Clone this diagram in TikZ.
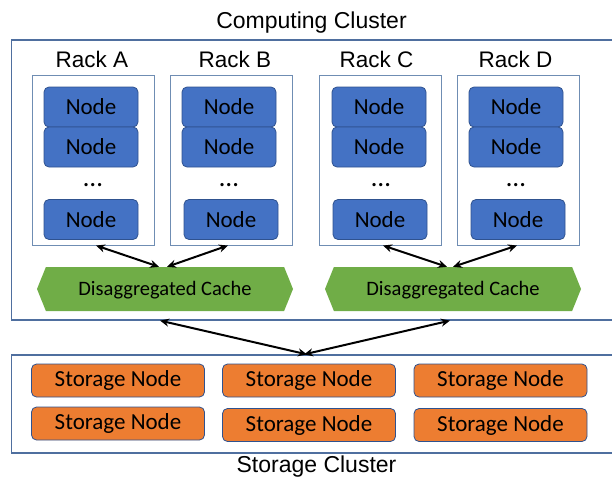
\documentclass[tikz,border=0pt]{standalone}
\usepackage{fontspec}
\setmainfont{Liberation Sans}
\newfontfamily\calibri{Carlito}
\usetikzlibrary{shapes.symbols,arrows.meta,calc}
\definecolor{nodeblue}{HTML}{4472C4}
\definecolor{edgeblue}{HTML}{2F528F}
\definecolor{framecol}{HTML}{4F6F9F}
\definecolor{rackcol}{HTML}{6F8DB3}
\definecolor{cachegreen}{HTML}{70AD47}
\definecolor{storeorange}{HTML}{ED7D31}
\begin{document}
\begin{tikzpicture}[x=1pt,y=-1pt,
  title/.style={font=\fontsize{23}{27}\selectfont, anchor=base, inner sep=0},
  racklabel/.style={font=\fontsize{22.5}{27}\selectfont, anchor=base, inner sep=0},
  cluster/.style={draw=framecol, line width=1.2pt, inner sep=0},
  rackbox/.style={draw=rackcol, line width=1pt, minimum width=122pt, minimum height=170pt, inner sep=0},
  cnode/.style={draw=edgeblue, fill=nodeblue, rounded corners=5pt, line width=0.8pt,
    minimum width=94pt, minimum height=40pt, inner sep=0, text height=15.4pt, text depth=0pt,
    font=\calibri\fontsize{23}{26}\selectfont},
  dots/.style={font=\calibri\fontsize{27}{30}\selectfont, inner sep=0, anchor=base},
  cache/.style={shape=signal, signal to=east and west, signal pointer angle=136, fill=cachegreen,
    minimum width=256pt, minimum height=44pt, inner sep=0, text height=13.4pt, text depth=0pt,
    font=\calibri\fontsize{20.5}{24}\selectfont},
  snode/.style={draw=edgeblue, fill=storeorange, rounded corners=5pt, line width=0.8pt,
    minimum width=173pt, minimum height=33pt, inner sep=0, text height=12.4pt, text depth=0pt,
    font=\calibri\fontsize{23}{26}\selectfont},
  arr/.style={{Stealth[length=9pt,width=8pt]}-{Stealth[length=9pt,width=8pt]}, line width=2pt}
]
\useasboundingbox (0,0) rectangle (612,479);
\clip (0,0) rectangle (612,479);

% clusters
\node[cluster, minimum width=628.5pt, minimum height=280pt] (comp) at (325.75,180) {};
\node[cluster, minimum width=628.5pt, minimum height=98pt] (stor) at (325.75,404) {};
\node[title] (comptitle) at (311.5,28) {Computing Cluster};
\node[title] (stortitle) at (316.5,472.5) {Storage Cluster};

% racks
\node[rackbox] (rackA) at (93,160) {};
\node[rackbox] (rackB) at (231,160) {};
\node[rackbox] (rackC) at (380.5,160) {};
\node[rackbox] (rackD) at (518,160) {};
\node[racklabel] (labA) at (92,67.5) {Rack A};
\node[racklabel] (labB) at (235,67.5) {Rack B};
\node[racklabel] (labC) at (376.5,67.5) {Rack C};
\node[racklabel] (labD) at (515.5,67.5) {Rack D};

% compute nodes
\node[cnode] (a1) at (91,107) {Node};
\node[cnode] (a2) at (91,147) {Node};
\node[dots]  (a3) at (93,186) {…};
\node[cnode] (a4) at (91,219.5) {Node};

\node[cnode] (b1) at (229,107) {Node};
\node[cnode] (b2) at (229,147) {Node};
\node[dots]  (b3) at (229,186) {…};
\node[cnode] (b4) at (231,219.5) {Node};

\node[cnode] (c1) at (379,107) {Node};
\node[cnode] (c2) at (379,147) {Node};
\node[dots]  (c3) at (381,186) {…};
\node[cnode] (c4) at (380,219.5) {Node};

\node[cnode] (d1) at (516,107) {Node};
\node[cnode] (d2) at (516,147) {Node};
\node[dots]  (d3) at (516,186) {…};
\node[cnode] (d4) at (518,219.5) {Node};

% caches
\node[cache] (cache1) at (165,289) {Disaggregated Cache};
\node[cache] (cache2) at (453,289) {Disaggregated Cache};

% storage nodes
\node[snode] (s11) at (118,380.5) {Storage Node};
\node[snode] (s12) at (309,380.5) {Storage Node};
\node[snode] (s13) at (500.5,380.5) {Storage Node};
\node[snode] (s21) at (118,423.5) {Storage Node};
\node[snode] (s22) at (309,425) {Storage Node};
\node[snode] (s23) at (500.5,425) {Storage Node};

% connectors
\draw[arr] ([xshift=3pt]rackA.south) -- ([xshift=-6pt]cache1.north);
\draw[arr] ([xshift=-3pt]rackB.south) -- ([xshift=2pt]cache1.north);
\draw[arr] ([xshift=2.5pt]rackC.south) -- ([xshift=-6pt]cache2.north);
\draw[arr] ([xshift=-1pt]rackD.south) -- ([xshift=0pt]cache2.north);
\draw[arr] ($(comp.south -| cache1.south)+(-5,0)$) -- ($(stor.north -| s12.north)+(-2,0)$);
\draw[arr] ($(comp.south -| cache2.south)+(-3,0)$) -- ($(stor.north -| s12.north)+(-5,0)$);
\end{tikzpicture}
\end{document}
